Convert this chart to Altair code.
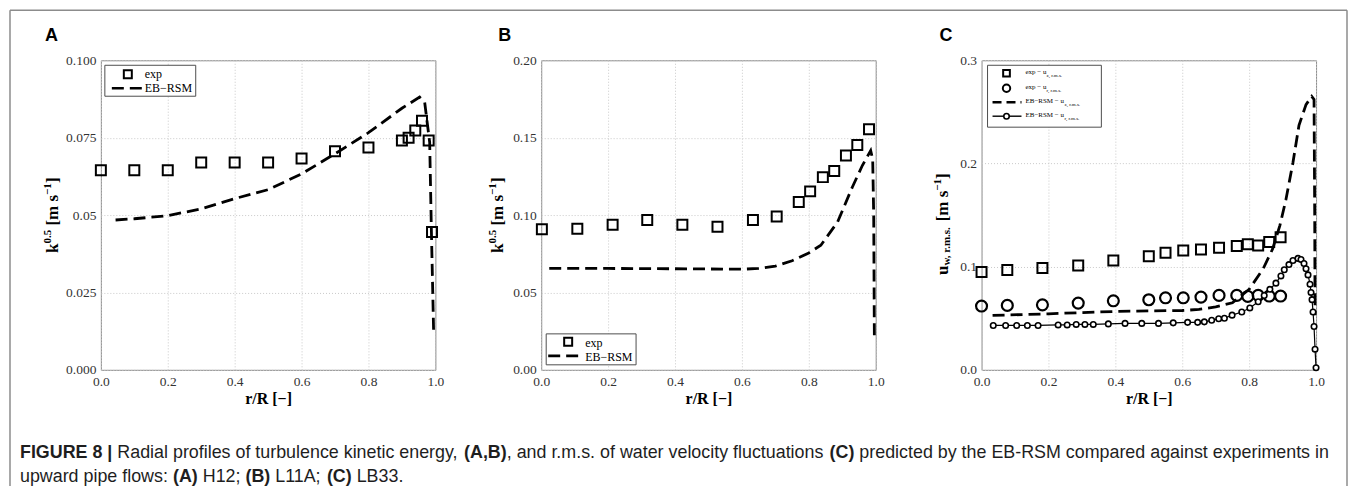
import altair as alt
import pandas as pd

# ---------------- data ----------------
# Panel A  (H12)
a_exp_r = [0.0, 0.1, 0.2, 0.3, 0.4, 0.5, 0.6, 0.7, 0.8, 0.9, 0.92, 0.94, 0.96, 0.98, 0.99]
a_exp_k = [0.0645, 0.0645, 0.0645, 0.067, 0.067, 0.067, 0.0683, 0.0706, 0.0718, 0.0741,
           0.0750, 0.0773, 0.0805, 0.0741, 0.0445]
a_mod_r = [0.044, 0.1, 0.2, 0.3, 0.4, 0.5, 0.6, 0.7, 0.8, 0.9, 0.953, 0.968, 0.978, 0.983, 0.988, 0.995]
a_mod_k = [0.0484, 0.0488, 0.0498, 0.052, 0.0553, 0.0582, 0.0633, 0.0698, 0.0766, 0.0845,
           0.0881, 0.0865, 0.0778, 0.0735, 0.0456, 0.0113]

# Panel B  (L11A)
b_exp_r = [0.002, 0.108, 0.2135, 0.317, 0.422, 0.527, 0.633, 0.704, 0.770, 0.804, 0.842,
           0.876, 0.911, 0.945, 0.980]
b_exp_k = [0.0908, 0.0912, 0.0938, 0.0968, 0.0938, 0.0925, 0.0968, 0.0991, 0.1084, 0.1153,
           0.1245, 0.1284, 0.1385, 0.1452, 0.1555]
b_mod_r = [0.024, 0.2, 0.4, 0.6, 0.65, 0.7, 0.75, 0.8, 0.836, 0.886, 0.93, 0.96, 0.985, 0.991, 0.994, 0.996]
b_mod_k = [0.0655, 0.0655, 0.0653, 0.065, 0.0655, 0.067, 0.0705, 0.0755, 0.0805, 0.0955,
           0.118, 0.132, 0.1417, 0.136, 0.100, 0.020]

# Panel C  (LB33)
c_exp_r = [0.0, 0.077, 0.182, 0.289, 0.394, 0.50, 0.55, 0.603, 0.656, 0.71, 0.763, 0.796,
           0.827, 0.860, 0.894]
c_exp_uz = [0.0947, 0.0967, 0.0986, 0.1012, 0.106, 0.110, 0.1135, 0.1157, 0.1167, 0.1183,
            0.120, 0.1216, 0.1206, 0.1238, 0.1284]
c_exp_ur = [0.0618, 0.0624, 0.063, 0.0647, 0.0669, 0.0679, 0.0698, 0.0698, 0.0705, 0.0721,
            0.0721, 0.0711, 0.0721, 0.0715, 0.0715]
c_mod_uz_r = [0.033, 0.2, 0.4, 0.6, 0.65, 0.7, 0.75, 0.8, 0.842, 0.87, 0.892, 0.91, 0.931,
              0.949, 0.97, 0.987, 0.994, 0.996, 0.997]
c_mod_uz = [0.0527, 0.0543, 0.0566, 0.0575, 0.0585, 0.061, 0.065, 0.078, 0.098, 0.117, 0.140,
            0.165, 0.201, 0.237, 0.257, 0.265, 0.262, 0.15, 0.053]
c_mod_ur_r = [0.035, 0.072, 0.105, 0.137, 0.169, 0.229, 0.256, 0.283, 0.309, 0.334, 0.379,
              0.429, 0.479, 0.529, 0.573, 0.616, 0.646, 0.666, 0.688, 0.709, 0.726, 0.749,
              0.778, 0.802, 0.827, 0.845, 0.862, 0.880, 0.895, 0.905, 0.919, 0.931, 0.946,
              0.955, 0.964, 0.970, 0.976, 0.982, 0.985, 0.988, 0.991, 0.994, 0.997, 1.0]
c_mod_ur = [0.043, 0.043, 0.043, 0.043, 0.043, 0.0435, 0.0435, 0.044, 0.044, 0.044, 0.0445,
            0.045, 0.045, 0.045, 0.0455, 0.046, 0.046, 0.0465, 0.048, 0.0495, 0.050, 0.053,
            0.056, 0.060, 0.066, 0.072, 0.078, 0.084, 0.091, 0.097, 0.102, 0.106, 0.108,
            0.107, 0.103, 0.098, 0.092, 0.083, 0.075, 0.068, 0.056, 0.042, 0.020, 0.002]

x_ticks = [0.0, 0.2, 0.4, 0.6, 0.8, 1.0]
a_ticks = [0.0, 0.025, 0.05, 0.075, 0.1]
b_ticks = [0.0, 0.05, 0.10, 0.15, 0.20]
c_ticks = [0.0, 0.1, 0.2, 0.3]

caption_line1 = [("FIGURE 8 | ", True), ("Radial profiles of turbulence kinetic energy, ", False),
                 ("(A,B)", True), (", and r.m.s. of water velocity fluctuations ", False),
                 ("(C)", True), (" predicted by the EB-RSM compared against experiments in", False)]
caption_line2 = [("upward pipe flows: ", False), ("(A)", True), (" H12; ", False), ("(B)", True),
                 (" L11A; ", False), ("(C)", True), (" LB33.", False)]

# ---------------- helpers ----------------
W, H = 335, 310
SERIF = "Liberation Serif"
SANS = "Liberation Sans"
one = pd.DataFrame({"_": [0]})


def df(r, v):
    return pd.DataFrame({"r": r, "v": v})


def xenc():
    return alt.X("r:Q", scale=alt.Scale(domain=[0, 1], nice=False),
                 axis=alt.Axis(values=x_ticks, format=".1f", title="r/R [−]"))


def yenc(dom, ticks, fmt=None, expr=None):
    ax = dict(values=ticks, title=None)
    if expr:
        ax["labelExpr"] = expr
    else:
        ax["format"] = fmt
    return alt.Y("v:Q", scale=alt.Scale(domain=dom, nice=False, zero=False), axis=alt.Axis(**ax))


def txt(text, x, y, size, bold=False, font=SERIF, angle=0, align="left",
        baseline="middle", color="black"):
    kw = dict(text=text, font=font, fontSize=size, fontWeight="bold" if bold else "normal",
              align=align, baseline=baseline, color=color)
    if angle:
        kw["angle"] = angle
    return alt.Chart(one).mark_text(**kw).encode(x=alt.value(x), y=alt.value(y))


def hrule(x1, x2, y, dash=None, width=2.6, color="black"):
    kw = dict(color=color, strokeWidth=width)
    if dash:
        kw["strokeDash"] = dash
    return alt.Chart(one).mark_rule(**kw).encode(x=alt.value(x1), x2=alt.value(x2), y=alt.value(y))


def vrule(x, y1, y2, color="#8c8c8c", width=1.5):
    return alt.Chart(one).mark_rule(color=color, strokeWidth=width).encode(
        x=alt.value(x), y=alt.value(y1), y2=alt.value(y2))


def marker(shape, x, y, size, sw=2):
    return alt.Chart(one).mark_point(shape=shape, filled=False, color="black", strokeWidth=sw,
                                     size=size, opacity=1).encode(x=alt.value(x), y=alt.value(y))


def box(x1, y1, x2, y2):
    return alt.Chart(one).mark_rect(fill="white", stroke="#4d4d4d", strokeWidth=1).encode(
        x=alt.value(x1), x2=alt.value(x2), y=alt.value(y1), y2=alt.value(y2))


def ytitle_k(xc):
    T = 58
    return [txt("k", xc, 251 - T, 17, True, angle=270),
            txt("0.5", xc - 5, 241.5 - T, 11, True, angle=270),
            txt("[m s", xc, 223.5 - T, 17, True, angle=270),
            txt("−1", xc - 5, 192.8 - T, 11, True, angle=270),
            txt("]", xc, 181 - T, 17, True, angle=270)]


DASH = [12, 6]

# ---------------- caption width table (Liberation Sans metrics) ----------------
REG = {' ': 278, '(': 333, ')': 333, ',': 278, '-': 333, '.': 278, ':': 278, ';': 278, '|': 260,
       'A': 667, 'B': 667, 'C': 722, 'E': 667, 'F': 611, 'G': 778, 'H': 722, 'I': 278, 'L': 556,
       'M': 833, 'R': 722, 'S': 667, 'U': 722, 'a': 556, 'b': 556, 'c': 500, 'd': 556, 'e': 556,
       'f': 278, 'g': 556, 'h': 556, 'i': 222, 'k': 500, 'l': 222, 'm': 833, 'n': 556, 'o': 556,
       'p': 556, 'r': 333, 's': 500, 't': 278, 'u': 556, 'v': 500, 'w': 722, 'x': 500, 'y': 500}
BOLD = {' ': 278, '(': 333, ')': 333, ',': 278, '|': 280, 'A': 722, 'B': 722, 'C': 722,
        'E': 667, 'F': 611, 'G': 778, 'I': 278, 'R': 722, 'U': 722}
CAP = 17.9


def caption(pieces, x0, y):
    out = []
    x = x0
    for s, b in pieces:
        tab = BOLD if b else REG
        lead = len(s) - len(s.lstrip(' '))
        xs = x + lead * 278 / 1000 * CAP
        out.append(txt(s.strip(), xs, y, CAP, b, font=SANS, baseline="alphabetic", color="#1e1e1e"))
        x += sum(tab.get(c, 556) for c in s) / 1000 * CAP
    return out


# ---------------- panel A ----------------
A_layers = [
    alt.Chart(df(a_mod_r, a_mod_k)).mark_line(color="black", strokeWidth=2.8, strokeDash=DASH)
    .encode(x=xenc(), y=yenc([0, 0.1], a_ticks,
                             expr="datum.value == 0.05 ? '0.05' : format(datum.value, '.3f')")),
    alt.Chart(df(a_exp_r, a_exp_k)).mark_point(shape="square", filled=False, color="black",
                                               strokeWidth=2, size=100, opacity=1)
    .encode(x="r:Q", y="v:Q"),
    box(4, 5, 95, 36),
    marker("square", 27, 14, 64),
    txt("exp", 44, 14, 12),
    hrule(11, 41, 28, DASH),
    txt("EB−RSM", 44, 28, 12),
    txt("A", -56, -24, 18, True, font=SANS),
    # figure frame
    hrule(-91, 1248, -50, width=1.5, color="#8c8c8c"),
    vrule(-91, -50, 428),
    vrule(1248, -50, 428),
] + ytitle_k(-48) + caption(caption_line1, -81, 398) + caption(caption_line2, -81, 422)
panelA = alt.layer(*A_layers).properties(width=W, height=H)

# ---------------- panel B ----------------
B_layers = [
    alt.Chart(df(b_mod_r, b_mod_k)).mark_line(color="black", strokeWidth=2.8, strokeDash=DASH)
    .encode(x=xenc(), y=yenc([0, 0.2], b_ticks, fmt=".2f")),
    alt.Chart(df(b_exp_r, b_exp_k)).mark_point(shape="square", filled=False, color="black",
                                               strokeWidth=2, size=100, opacity=1)
    .encode(x="r:Q", y="v:Q"),
    box(5, 274, 95, 305),
    marker("square", 27, 282, 64),
    txt("exp", 44, 283, 12),
    hrule(7, 42, 296, DASH),
    txt("EB−RSM", 44, 297, 12),
    txt("B", -43, -24, 18, True, font=SANS),
] + ytitle_k(-43)
panelB = alt.layer(*B_layers).properties(width=W, height=H)

# ---------------- panel C ----------------
T = 58
xc = -39
C_layers = [
    alt.Chart(df(c_exp_r, c_exp_uz)).mark_point(shape="square", filled=False, color="black",
                                                strokeWidth=2, size=100, opacity=1)
    .encode(x=xenc(), y=yenc([0, 0.3], c_ticks, fmt=".1f")),
    alt.Chart(df(c_exp_r, c_exp_ur)).mark_point(shape="circle", filled=False, color="black",
                                                strokeWidth=2.2, size=120, opacity=1)
    .encode(x="r:Q", y="v:Q"),
    alt.Chart(df(c_mod_uz_r, c_mod_uz)).mark_line(color="black", strokeWidth=2.8, strokeDash=DASH)
    .encode(x="r:Q", y="v:Q"),
    alt.Chart(df(c_mod_ur_r, c_mod_ur)).mark_line(color="black", strokeWidth=1.2)
    .encode(x="r:Q", y="v:Q"),
    alt.Chart(df(c_mod_ur_r, c_mod_ur)).mark_point(shape="circle", filled=True, fill="white",
                                                   stroke="black", strokeWidth=1.6, size=30,
                                                   opacity=1)
    .encode(x="r:Q", y="v:Q"),
    box(6, 5, 120, 67),
    marker("square", 25, 13, 45),
    marker("circle", 25, 28, 55),
    hrule(11, 40, 42, [9, 5], width=2.4),
    hrule(11, 40, 56, width=1.4),
    alt.Chart(one).mark_point(shape="circle", filled=True, fill="white", stroke="black",
                              strokeWidth=1.6, size=30, opacity=1)
    .encode(x=alt.value(25), y=alt.value(56)),
    txt("exp − u", 44, 12, 7), txt("z, r.m.s.", 65, 14.5, 5),
    txt("exp − u", 44, 27, 7), txt("r, r.m.s.", 65, 29.5, 5),
    txt("EB−RSM − u", 44, 41, 7), txt("z, r.m.s.", 83, 43.5, 5),
    txt("EB−RSM − u", 44, 55, 7), txt("r, r.m.s.", 83, 57.5, 5),
    txt("C", -42, -24, 18, True, font=SANS),
    txt("u", xc, 273 - T, 17, True, angle=270),
    txt("w, r.m.s.", xc + 4, 263.5 - T, 11, True, angle=270),
    txt("[m s", xc, 219.3 - T, 17, True, angle=270),
    txt("−1", xc - 5, 188.6 - T, 11, True, angle=270),
    txt("]", xc, 176.8 - T, 17, True, angle=270),
]
panelC = alt.layer(*C_layers).properties(width=W, height=H)

chart = (
    alt.hconcat(panelA, panelB, panelC, spacing=106, bounds="flush")
    .properties(padding=0, background="white")
    .configure_view(stroke="#8a8a8a", strokeWidth=1)
    .configure_axis(grid=True, gridColor="#c9c9c9", gridDash=[1, 2], gridWidth=1,
                    domain=False, ticks=False, tickSize=0,
                    labelFont=SERIF, labelFontSize=13.5, labelColor="#333333",
                    labelOverlap=False, labelFlush=False, labelBound=False,
                    titleFont=SERIF, titleFontSize=16, titleFontWeight="bold",
                    titleColor="black")
    .configure_axisX(labelPadding=5, titlePadding=2)
    .configure_axisY(labelPadding=5)
)

chart.save("out.html", embed_options={"renderer": "svg", "actions": False})
